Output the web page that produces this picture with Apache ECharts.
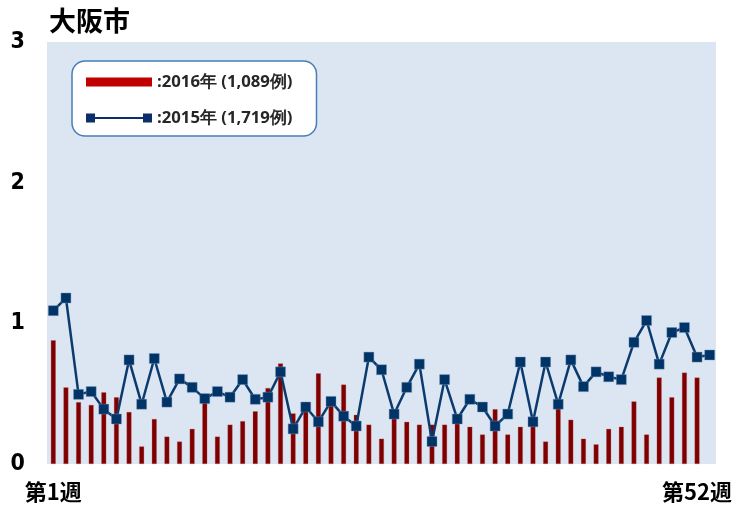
<!DOCTYPE html>
<html>
<head>
<meta charset="utf-8">
<script src="https://cdn.jsdelivr.net/npm/echarts@6/dist/echarts.min.js"></script>
<style>
html,body{margin:0;padding:0;background:#fff;}
#chart{width:739px;height:509px;}
</style>
</head>
<body>
<div id="chart"></div>
<script>
var titleText = '大阪市';
var seriesNames = ['2016年 (1,089例)', '2015年 (1,719例)'];
var weeks = [];
for (var i = 1; i <= 53; i++) { weeks.push('第' + i + '週'); }
var shownWeekLabels = ['第1週', '第52週'];
var yTicks = [0, 1, 2, 3];

var values2016 = [0.88, 0.545, 0.44, 0.42, 0.51, 0.475, 0.37, 0.125, 0.32, 0.195,
  0.16, 0.25, 0.44, 0.195, 0.28, 0.305, 0.375, 0.54, 0.715, 0.36,
  0.44, 0.645, 0.42, 0.565, 0.35, 0.28, 0.18, 0.34, 0.30, 0.28,
  0.28, 0.28, 0.30, 0.265, 0.21, 0.39, 0.21, 0.265, 0.28, 0.16,
  0.40, 0.315, 0.18, 0.14, 0.25, 0.265, 0.445, 0.21, 0.615, 0.475,
  0.65, 0.615];

var values2015 = [1.09, 1.18, 0.495, 0.515, 0.39, 0.32, 0.74, 0.425, 0.75, 0.44,
  0.605, 0.545, 0.465, 0.515, 0.475, 0.60, 0.46, 0.475, 0.655, 0.25,
  0.405, 0.30, 0.445, 0.34, 0.27, 0.76, 0.67, 0.355, 0.545, 0.71,
  0.16, 0.60, 0.32, 0.46, 0.405, 0.27, 0.355, 0.725, 0.30, 0.725,
  0.425, 0.74, 0.55, 0.655, 0.62, 0.60, 0.865, 1.02, 0.71, 0.935,
  0.97, 0.76, 0.775];

var chart = echarts.init(document.getElementById('chart'));
chart.setOption({
  animation: false,
  title: {
    text: titleText,
    left: 44, top: 2,
    textStyle: { fontFamily: 'Noto Sans CJK JP', fontWeight: 'bold', fontSize: 27, color: '#000' }
  },
  grid: {
    left: 47, right: 23, top: 42, bottom: 45,
    show: true, backgroundColor: '#DCE6F2', borderWidth: 0
  },
  legend: {
    left: 72, top: 61,
    orient: 'vertical',
    backgroundColor: '#ffffff',
    borderColor: '#4A7DB5',
    borderWidth: 1.5,
    borderRadius: 13,
    padding: [12, 24, 9, 14],
    itemGap: 18,
    itemWidth: 66,
    itemHeight: 9,
    formatter: function (n) { return ':' + n; },
    textStyle: { fontFamily: 'Open Sans', fontWeight: 'bold', fontSize: 16.7, color: '#262626', lineHeight: 18 },
    data: [
      { name: seriesNames[0], icon: 'rect', itemStyle: { color: '#C00000', borderWidth: 0 } },
      { name: seriesNames[1], icon: 'path://M0,0h9v9h-9z M9,3.6h48v1.8h-48z M57,0h9v9h-9z', itemStyle: { color: '#0A2F6B', borderWidth: 0 } }
    ]
  },
  xAxis: {
    type: 'category',
    data: weeks,
    boundaryGap: true,
    axisLine: { show: false },
    axisTick: { show: false },
    axisLabel: {
      interval: 0,
      margin: 17,
      formatter: function (v) { return shownWeekLabels.indexOf(v) >= 0 ? v : ''; },
      fontFamily: 'Noto Sans CJK JP', fontWeight: 'bold', fontSize: 22, color: '#000'
    }
  },
  yAxis: {
    type: 'value',
    min: yTicks[0], max: yTicks[yTicks.length - 1], interval: 1,
    splitLine: { show: false },
    axisLine: { show: false },
    axisTick: { show: false },
    axisLabel: {
      margin: 22,
      fontFamily: "'DejaVu Sans Condensed', 'Liberation Sans', sans-serif", fontWeight: 'bold', fontSize: 23, color: '#000'
    }
  },
  series: [
    {
      name: seriesNames[0],
      type: 'bar',
      data: values2016,
      barWidth: 5,
      itemStyle: { color: '#7F0000', borderColor: 'rgba(190,90,90,0.6)', borderWidth: 0.5 }
    },
    {
      name: seriesNames[1],
      type: 'line',
      data: values2015,
      symbol: 'rect',
      symbolSize: 10,
      lineStyle: { color: '#0B3A6E', width: 2.5 },
      itemStyle: { color: '#003366', borderColor: 'rgba(120,150,190,0.7)', borderWidth: 0.6 }
    }
  ]
});
</script>
</body>
</html>
